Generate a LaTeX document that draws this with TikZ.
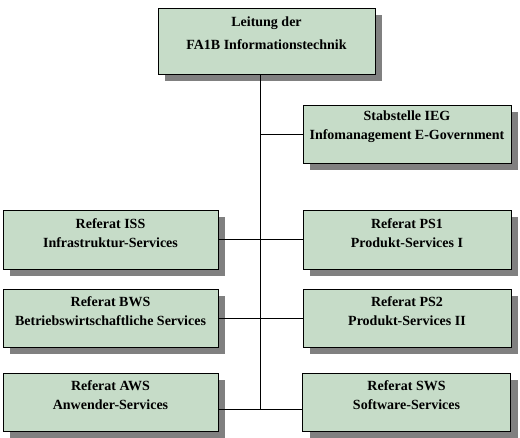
\documentclass[tikz,border=0pt]{standalone}
\usepackage{fontspec}
\setmainfont{Liberation Serif}
\usetikzlibrary{positioning,shadows}
\definecolor{boxgreen}{RGB}{198,220,200}
\definecolor{shadowgray}{RGB}{128,128,128}

\begin{document}
\begin{tikzpicture}[x=1pt,y=-1pt]
\tikzset{
  unitbox/.style={draw,thick,fill=boxgreen,minimum width=215pt,minimum height=58pt,inner sep=0pt,
    drop shadow={shadow xshift=7pt,shadow yshift=-7pt,fill=shadowgray,opacity=1}},
  unittext/.style={align=center,font=\fontsize{14}{18.5}\selectfont\bfseries,inner sep=0pt},
  connector/.style={thin,black}
}
\useasboundingbox (0,0) rectangle (520,438);
\node[unitbox,minimum width=217pt,minimum height=66pt] (n_leitung) at (266.5,41) {};
\node[unitbox,minimum width=208pt] (n_ieg) at (407,134) {};
\node[unitbox,minimum height=59pt] (n_iss) at (110.5,239.5) {};
\node[unitbox,minimum width=208pt,minimum height=59pt] (n_ps1) at (407,239.5) {};
\node[unitbox] (n_bws) at (110.5,318) {};
\node[unitbox,minimum width=208pt] (n_ps2) at (407,318) {};
\node[unitbox] (n_aws) at (110.5,402) {};
\node[unitbox,minimum width=208pt] (n_sws) at (406.5,402) {};
\node[unittext,font=\fontsize{14}{23}\selectfont\bfseries] (t_leitung) at (266.5,33.5) {Leitung der\\FA1B Informationstechnik};
\node[unittext] (t_ieg) at (407,126.5) {Stabstelle IEG\\Infomanagement E-Government};
\node[unittext] (t_iss) at (110.5,233) {Referat ISS\\Infrastruktur-Services};
\node[unittext] (t_ps1) at (407,233) {Referat PS1\\Produkt-Services I};
\node[unittext] (t_bws) at (110.5,311) {Referat BWS\\Betriebswirtschaftliche Services};
\node[unittext] (t_ps2) at (407,311) {Referat PS2\\Produkt-Services II};
\node[unittext] (t_aws) at (110.5,395) {Referat AWS\\Anwender-Services};
\node[unittext] (t_sws) at (406.5,395) {Referat SWS\\Software-Services};
\coordinate (spine) at (260,409);
\draw[connector] (n_leitung.south -| spine) -- (spine);
\draw[connector] (n_ieg.west) -- (n_ieg.west -| spine);
\draw[connector] (n_iss.east) -- (n_ps1.west);
\draw[connector] (n_bws.east) -- (n_ps2.west);
\draw[connector] (n_aws.east |- spine) -- (n_sws.west |- spine);
\end{tikzpicture}
\end{document}
